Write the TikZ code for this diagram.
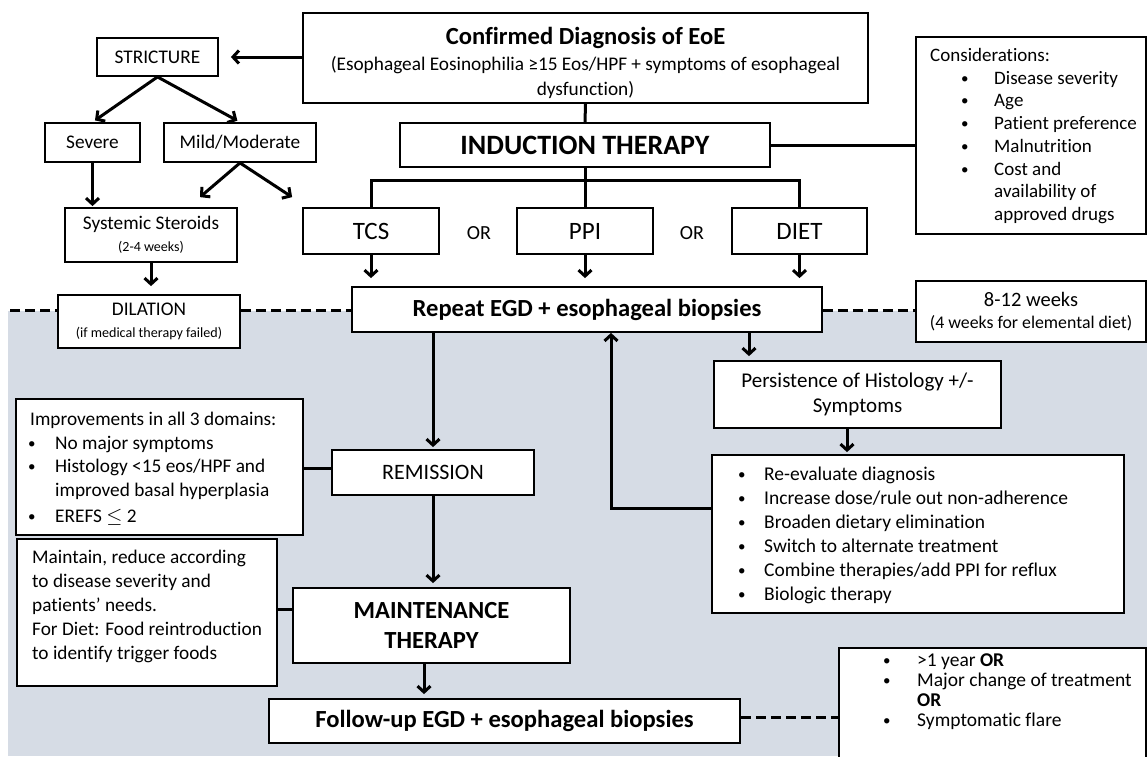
\documentclass[tikz,border=0pt]{standalone}
\usepackage{fontspec}
\setmainfont{Carlito}[Ligatures=NoCommon]
\usetikzlibrary{arrows.meta,calc}
\definecolor{bgblue}{HTML}{D6DCE5}
\newcommand{\fsz}[2]{\fontsize{#1}{#2}\selectfont}
\newcommand{\bul}[1]{\makebox[#1][l]{\raisebox{1pt}{\fsz{15}{15}\textbullet}}}
\begin{document}
\begin{tikzpicture}[x=1pt,y=-1pt,
  box/.style={draw,line width=1.8pt,fill=white,inner sep=0pt,align=center},
  txt/.style={inner sep=0pt,align=left,anchor=west},
  conn/.style={line width=3pt},
  arr/.style={line width=3pt,-{Straight Barb[length=6pt,width=13pt]}},
  dashline/.style={line width=3pt,dash pattern=on 10pt off 5pt},
  body/.style={font=\fsz{19.3}{23.5}},
  head/.style={font=\fsz{24.6}{30}\bfseries}]
\useasboundingbox (0,0) rectangle (1147,756);
\fill[bgblue] (8,311) rectangle (1147,756);

% top left branch
\node[box,minimum width=565pt,minimum height=90pt] (diag) at (585.5,58) {};
\node[align=center,inner sep=0pt,font=\fsz{19.3}{25}] (diagtxt) at (585.5,63) {{\fsz{24.6}{26}\bfseries Confirmed Diagnosis of EoE}\\[1pt]
  (Esophageal Eosinophilia ≥15 Eos/HPF + symptoms of esophageal\\dysfunction)};
\node[box,body,minimum width=121pt,minimum height=38pt] (strict) at (157.5,57) {STRICTURE};
\node[box,body,minimum width=95pt,minimum height=39pt] (severe) at (92.5,142.5) {Severe};
\node[box,body,minimum width=152pt,minimum height=39pt] (mild) at (240,142.5) {Mild/Moderate};
\node[box,body,minimum width=172pt,minimum height=54pt] (steroids) at (151,235) {Systemic Steroids\\[-2pt]{\fsz{14}{16}(2-4 weeks)}};
\node[box,body,minimum width=182pt,minimum height=53pt] (dilation) at (149,321.5) {DILATION\\[-1pt]{\fsz{14.1}{16}(if medical therapy failed)}};

% induction
\node[box,font=\fsz{28}{30}\bfseries,minimum width=370pt,minimum height=44pt] (induction) at (585,145) {INDUCTION THERAPY};
\node[box,font=\fsz{25}{28},minimum width=136pt,minimum height=46pt] (tcs) at (371,231) {TCS};
\node[box,font=\fsz{25}{28},minimum width=136pt,minimum height=46pt] (ppi) at (585,231) {PPI};
\node[box,font=\fsz{25}{28},minimum width=135pt,minimum height=46pt] (diet) at (799.5,231) {DIET};
\node[inner sep=0pt,font=\fsz{20}{22}] (or1) at (479,233) {OR};
\node[inner sep=0pt,font=\fsz{20}{22}] (or2) at (692,233) {OR};
\coordinate (bar) at (585,180);

\node[box,minimum width=230pt,minimum height=197pt] (consid) at (1031,135.5) {};
\node[txt,font=\fsz{19}{22.7}] (considtxt) at (930,136) {Considerations:\\
  \hspace*{31pt}\bul{33pt}Disease severity\\
  \hspace*{31pt}\bul{33pt}Age\\
  \hspace*{31pt}\bul{33pt}Patient preference\\
  \hspace*{31pt}\bul{33pt}Malnutrition\\
  \hspace*{31pt}\bul{33pt}Cost and\\
  \hspace*{64pt}availability of\\
  \hspace*{64pt}approved drugs};

% repeat EGD
\node[box,head,minimum width=470pt,minimum height=45pt] (repeat) at (587,309.5) {Repeat EGD + esophageal biopsies};
\node[box,font=\fsz{20.5}{23},minimum width=230pt,minimum height=61pt] (weeks) at (1031,311.5) {8-12 weeks\\[-1pt]{\fsz{17.8}{20}(4 weeks for elemental diet)}};
\node[box,font=\fsz{21}{25},minimum width=287pt,minimum height=67pt] (persist) at (857.5,394.5) {Persistence of Histology +/-\\Symptoms};
\node[box,minimum width=412pt,minimum height=158pt] (reeval) at (918,534) {};
\node[txt,font=\fsz{19.5}{24}] (reevaltxt) at (738,535) {\bul{26pt}Re-evaluate diagnosis\\
  \bul{26pt}Increase dose/rule out non-adherence\\
  \bul{26pt}Broaden dietary elimination\\
  \bul{26pt}Switch to alternate treatment\\
  \bul{26pt}Combine therapies/add PPI for reflux\\
  \bul{26pt}Biologic therapy};

% remission
\node[box,minimum width=287pt,minimum height=136pt] (improve) at (159.5,467) {};
\node[txt,body] (improvetxt) at (28,469) {\hspace*{2pt}Improvements in all 3 domains:\\
  \bul{27pt}No major symptoms\\
  \bul{27pt}Histology <15 eos/HPF and\\
  \hspace*{27pt}improved basal hyperplasia\\[3pt]
  \bul{27pt}EREFS $\leq$ 2};
\node[box,font=\fsz{22}{26},minimum width=202pt,minimum height=45pt] (remission) at (433,472.5) {REMISSION};

% maintenance
\node[box,minimum width=260pt,minimum height=147pt] (maintain) at (147,612.5) {};
\node[txt,font=\fsz{19.3}{24}] (maintaintxt) at (32,606) {Maintain, reduce according\\
  to disease severity and\\
  patients’ needs.\\
  For Diet: Food reintroduction\\
  to identify trigger foods};
\node[box,head,minimum width=277pt,minimum height=75pt] (maint) at (431.5,625.5) {MAINTENANCE\\THERAPY};
\node[box,head,minimum width=471pt,minimum height=44pt] (follow) at (504.5,721) {Follow-up EGD + esophageal biopsies};
\node[box,minimum width=307pt,minimum height=142pt] (freq) at (992.5,719) {};
\node[txt,font=\fsz{19.5}{20}] (freqtxt) at (883,692) {\bul{34pt}>1 year \textbf{OR}\\
  \bul{34pt}Major change of treatment\\
  \hspace*{34pt}\textbf{OR}\\
  \bul{34pt}Symptomatic flare};

% coordinates
\coordinate (gl) at (10,310);
\coordinate (pa) at (749,0);
\coordinate (pb) at (847,0);
\coordinate (lp) at (611,508);
\coordinate (ir) at (0,468);
\coordinate (ml) at (0,609);
\coordinate (mf) at (424,0);
\coordinate (fl) at (0,717);

% connectors
\draw[arr,shorten >=12pt] (strict.east -| diag.west) -- (strict.east);
\draw[arr,shorten >=3pt] (strict.south) -- (severe.north);
\draw[arr,shorten >=3pt] (strict.south) -- (mild.north);
\draw[arr,shorten >=1pt] (severe.south) -- (severe.south |- steroids.north);
\draw[arr] (mild.south) -- ($(steroids.north)+(49,-10)$);
\draw[arr] (mild.south) -- ($(tcs.north west)+(-10,-10)$);
\draw[arr,shorten >=8pt] (steroids.south) -- (steroids.south |- dilation.north);

\draw[conn] (diag.south) -- (induction.north);
\draw[conn] (induction.south) -- (ppi.north);
\draw[conn] (tcs.north) |- (bar) -| (diet.north);
\draw[conn] (induction.east) -- (induction.east -| consid.west);
\draw[arr,shorten >=8pt] (tcs.south) -- (tcs.south |- repeat.north);
\draw[arr,shorten >=8pt] (ppi.south) -- (ppi.south |- repeat.north);
\draw[arr,shorten >=8pt] (diet.south) -- (diet.south |- repeat.north);

\draw[dashline] (gl) -- (gl -| dilation.west);
\draw[dashline] (gl -| dilation.east) -- (gl -| repeat.west);
\draw[dashline] (gl -| repeat.east) -- (gl -| weeks.west);

\draw[arr,shorten >=2pt] (repeat.south -| remission.north) -- (remission.north);
\draw[arr,shorten >=4pt] (repeat.south -| pa) -- (persist.north -| pa);
\draw[arr,shorten >=2pt] (persist.south -| pb) -- (reeval.north -| pb);
\draw[arr] (lp -| reeval.west) -- (lp) -- (lp |- repeat.south);
\draw[conn] (ir -| improve.east) -- (ir -| remission.west);
\draw[arr,shorten >=4pt] (remission.south) -- (remission.south |- maint.north);
\draw[conn] (ml -| maintain.east) -- (ml -| maint.west);
\draw[arr,shorten >=4pt] (maint.south -| mf) -- (follow.north -| mf);
\draw[dashline] (fl -| follow.east) -- (fl -| freq.west);
\end{tikzpicture}
\end{document}
